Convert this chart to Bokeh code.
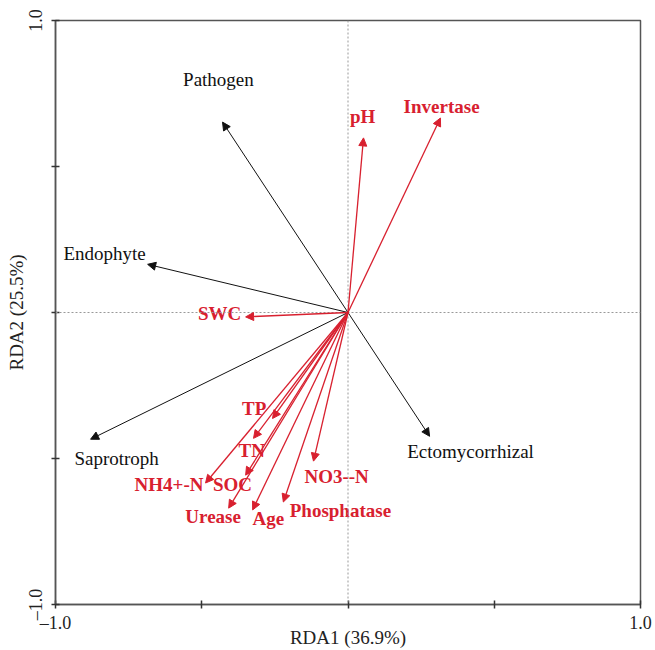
from bokeh.plotting import figure
from bokeh.models import ColumnDataSource, Arrow, NormalHead, Span, FixedTicker
from bokeh.core.properties import value
from bokeh.embed import file_html
from bokeh.resources import INLINE

# Functional guilds (black arrows)
guild_names = ["Pathogen", "Endophyte", "Saprotroph", "Ectomycorrhizal"]
guild_x = [-0.429, -0.685, -0.880, 0.279]
guild_y = [0.652, 0.165, -0.434, -0.424]
guild_lab_x = [-0.443, -0.832, -0.791, 0.419]
guild_lab_y = [0.799, 0.203, -0.499, -0.475]

# Environmental factors (red arrows)
env_names = ["pH", "Invertase", "SWC", "TP", "TN", "NH4+-N", "SOC",
             "Urease", "Age", "Phosphatase", "NO3--N"]
env_x = [0.053, 0.316, -0.350, -0.258, -0.323, -0.487, -0.350,
         -0.408, -0.326, -0.221, -0.118]
env_y = [0.598, 0.666, -0.015, -0.363, -0.431, -0.584, -0.557,
         -0.670, -0.676, -0.649, -0.509]
env_lab_x = [0.050, 0.320, -0.439, -0.321, -0.329, -0.612, -0.395,
             -0.461, -0.272, -0.026, -0.039]
env_lab_y = [0.670, 0.704, -0.005, -0.329, -0.472, -0.588, -0.588,
             -0.700, -0.704, -0.677, -0.560]

x_label = "RDA1 (36.9%)"
y_label = "RDA2 (25.5%)"
ticks = [-1.0, -0.5, 0.0, 0.5, 1.0]
tick_text = {-1.0: "\u20131.0", -0.5: "", 0.0: "", 0.5: "", 1.0: "1.0"}

RED = "#d8202f"
FONT = "Liberation Serif"

p = figure(width=652, height=650, x_range=(-1, 1), y_range=(-1, 1),
           output_backend="svg", toolbar_location=None,
           min_border_left=55, min_border_right=12, min_border_top=20,
           min_border_bottom=43)
p.grid.visible = False
p.outline_line_color = "#555555"
p.outline_line_width = 1.5
p.background_fill_color = "white"

for ax in (p.xaxis[0], p.yaxis[0]):
    ax.ticker = FixedTicker(ticks=ticks)
    ax.major_label_overrides = tick_text
    ax.minor_tick_line_color = None
    ax.major_tick_in = 4
    ax.major_tick_out = 4
    ax.major_tick_line_color = "#333333"
    ax.major_tick_line_width = 1.5
    ax.axis_line_color = "#555555"
    ax.axis_line_width = 1.5
    ax.major_label_text_font = FONT
    ax.major_label_text_font_size = "18px"
    ax.major_label_text_color = "#222222"
    ax.axis_label_text_font = FONT
    ax.axis_label_text_font_size = "19px"
    ax.axis_label_text_font_style = "normal"
    ax.axis_label_text_color = "#222222"

p.xaxis[0].axis_label = x_label
p.yaxis[0].axis_label = y_label
p.xaxis[0].major_label_standoff = 4
p.yaxis[0].major_label_standoff = 6
p.xaxis[0].axis_label_standoff = -9
p.yaxis[0].axis_label_standoff = -4
p.yaxis[0].major_label_orientation = "vertical"

p.add_layout(Span(location=0, dimension="width", line_color="#999999",
                  line_dash="2 2", line_width=1))
p.add_layout(Span(location=0, dimension="height", line_color="#999999",
                  line_dash="2 2", line_width=1))

gsrc = ColumnDataSource(dict(x0=[0.0] * len(guild_x), y0=[0.0] * len(guild_y),
                             x1=guild_x, y1=guild_y))
p.add_layout(Arrow(source=gsrc, x_start="x0", y_start="y0", x_end="x1", y_end="y1",
                   line_color="#111111", line_width=1,
                   end=NormalHead(size=8, fill_color="#111111", line_color="#111111",
                                  line_width=1)))

esrc = ColumnDataSource(dict(x0=[0.0] * len(env_x), y0=[0.0] * len(env_y),
                             x1=env_x, y1=env_y))
p.add_layout(Arrow(source=esrc, x_start="x0", y_start="y0", x_end="x1", y_end="y1",
                   line_color=RED, line_width=1.3,
                   end=NormalHead(size=8, fill_color=RED, line_color=RED,
                                  line_width=1)))

p.text(x=guild_lab_x, y=guild_lab_y, text=guild_names,
       text_font=value(FONT), text_font_size="19px", text_color="#111111",
       text_align="center", text_baseline="middle")
p.text(x=env_lab_x, y=env_lab_y, text=env_names,
       text_font=value(FONT), text_font_size="19px", text_font_style="bold",
       text_color=RED, text_align="center", text_baseline="middle")

open("out.html", "w").write(file_html(p, INLINE))
